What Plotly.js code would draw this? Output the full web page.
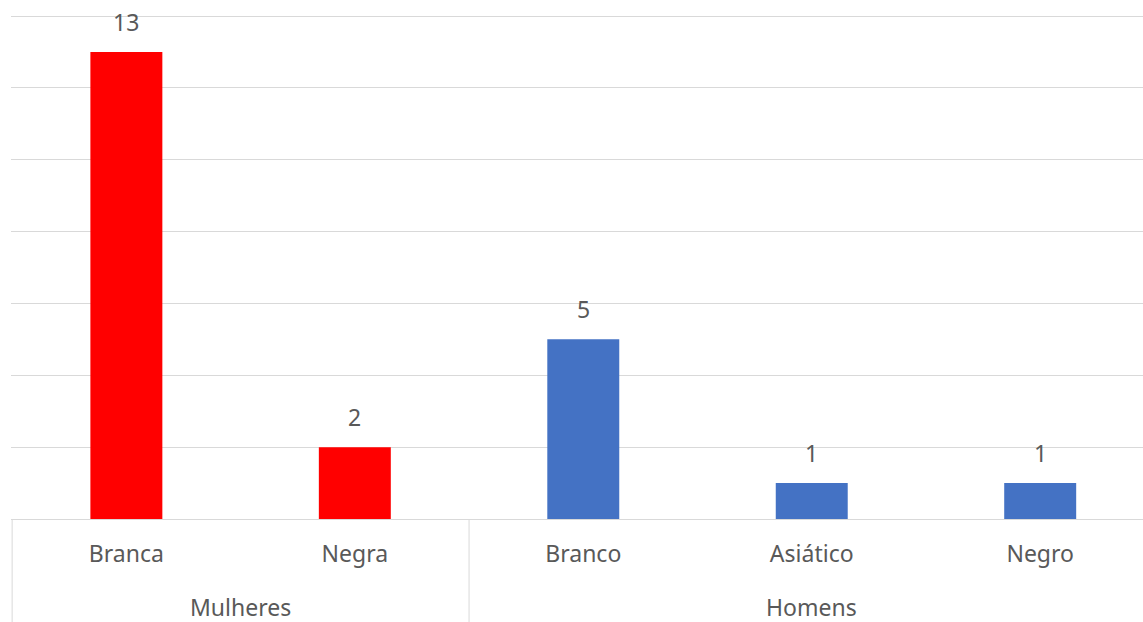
<!DOCTYPE html>
<html>
<head>
<meta charset="utf-8">
<script src="https://cdn.plot.ly/plotly-3.0.1.min.js"></script>
<style>
  html, body { margin: 0; padding: 0; background: #ffffff; }
  #chart { width: 1143px; height: 622px; }
</style>
</head>
<body>
<div id="chart"></div>
<script>
// Counts by sex and race
const groups = ['Mulheres', 'Homens'];
const womenCategories = ['Branca', 'Negra'];
const womenValues = [13, 2];
const menCategories = ['Branco', 'Asiático', 'Negro'];
const menValues = [5, 1, 1];

const textColor = '#595959';
const gridColor = '#d9d9d9';
const labelFont = { family: 'Noto Sans, Open Sans, sans-serif', size: 23, color: textColor };

// Category slots along the x axis: women first, then men
const womenX = womenCategories.map((_, i) => i);
const menX = menCategories.map((_, i) => womenCategories.length + i);
const allCategories = womenCategories.concat(menCategories);
const allX = womenX.concat(menX);
const allValues = womenValues.concat(menValues);

function barTrace(xs, cats, vals, color) {
  return {
    type: 'bar',
    x: xs,
    y: vals,
    customdata: cats,
    width: 0.315,
    marker: { color: color },
    hovertemplate: '%{customdata}: %{y}<extra></extra>',
    showlegend: false
  };
}

const data = [
  barTrace(womenX, womenCategories, womenValues, '#ff0000'),
  barTrace(menX, menCategories, menValues, '#4472c4')
];

// Value labels above each bar
const annotations = allX.map((x, i) => ({
  x: x,
  y: allValues[i],
  xref: 'x',
  yref: 'y',
  text: String(allValues[i]),
  showarrow: false,
  yanchor: 'middle',
  yshift: 30,
  font: labelFont
}));

// Group labels and dividers under the category labels
const groupSpans = [
  [womenX[0] - 0.5, womenX[womenX.length - 1] + 0.5],
  [menX[0] - 0.5, menX[menX.length - 1] + 0.5]
];
groupSpans.forEach((span, g) => {
  annotations.push({
    x: (span[0] + span[1]) / 2,
    y: -0.175,
    xref: 'x',
    yref: 'paper',
    text: groups[g],
    showarrow: false,
    yanchor: 'middle',
    font: labelFont
  });
});

const dividerX = [groupSpans[0][0], groupSpans[0][1], groupSpans[1][1]];
const shapes = dividerX.map(x => ({
  type: 'line',
  xref: 'x',
  yref: 'paper',
  x0: x, x1: x,
  y0: 0, y1: -0.21,
  line: { color: gridColor, width: 1 }
}));

const layout = {
  width: 1143,
  height: 622,
  margin: { l: 11, r: 0, t: 15, b: 103 },
  paper_bgcolor: '#ffffff',
  plot_bgcolor: '#ffffff',
  barmode: 'overlay',
  xaxis: {
    range: [-0.505, 4.45],
    tickvals: allX,
    ticktext: allCategories,
    showgrid: false,
    zeroline: false,
    showline: true,
    linecolor: gridColor,
    linewidth: 1,
    ticks: 'outside',
    ticklen: 14,
    tickcolor: 'rgba(0,0,0,0)',
    tickfont: labelFont,
    fixedrange: true
  },
  yaxis: {
    range: [0, 14.028],
    tickvals: [0, 2, 4, 6, 8, 10, 12, 14],
    showticklabels: false,
    showgrid: true,
    gridcolor: gridColor,
    gridwidth: 1,
    zeroline: true,
    zerolinecolor: gridColor,
    showline: false,
    ticks: '',
    fixedrange: true
  },
  annotations: annotations,
  shapes: shapes
};

Plotly.newPlot('chart', data, layout, { displayModeBar: false, staticPlot: true });
</script>
</body>
</html>
